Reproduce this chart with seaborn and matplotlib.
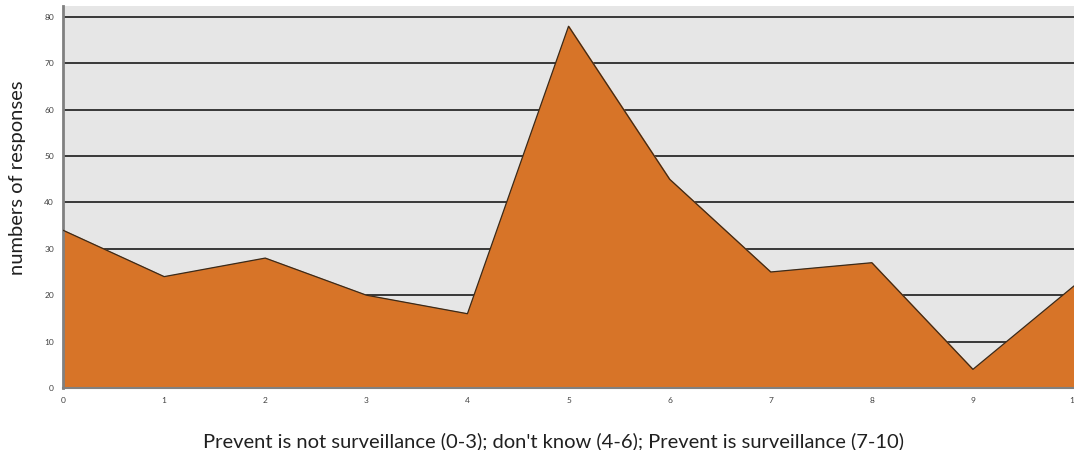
import matplotlib
matplotlib.use("Agg")
import matplotlib.pyplot as plt
import numpy as np
import pandas as pd
import seaborn as sns

scores = [0, 1, 2, 3, 4, 5, 6, 7, 8, 9, 10]
responses = [34, 24, 28, 20, 16, 78, 45, 25, 27, 4, 22]
y_ticks = [0, 10, 20, 30, 40, 50, 60, 70, 80]

df = pd.DataFrame({"score": scores, "responses": responses})

sns.set_style("white")
plt.rcParams["font.family"] = ["Lato", "DejaVu Sans"]

fig = plt.figure(figsize=(10.74, 4.5), dpi=100)
ax = fig.add_axes([0.0587, 0.138, 0.9413, 0.849])
ax.set_facecolor("#e6e6e6")

ax.fill_between(df["score"], df["responses"], color="#d77428", zorder=2)
sns.lineplot(data=df, x="score", y="responses", ax=ax, color="#3a2a1a",
             linewidth=0.9, zorder=3)

ax.set_xlim(0, 10)
ax.set_ylim(0, 82.4)
ax.set_xticks(scores)
ax.set_yticks(y_ticks)
ax.tick_params(axis="both", labelsize=6, length=3, color="#808080", labelcolor="#404040")
ax.yaxis.grid(True, color="#383838", linewidth=1.4, zorder=1)
ax.set_axisbelow(True)

for side in ["top", "right"]:
    ax.spines[side].set_visible(False)
ax.spines["left"].set_color("#808080")
ax.spines["left"].set_linewidth(2)
ax.spines["bottom"].set_color("#808080")
ax.spines["bottom"].set_linewidth(1.5)

ax.set_xlabel("Prevent is not surveillance (0-3); don't know (4-6); Prevent is surveillance (7-10)",
              fontsize=14.5, color="#202020")
ax.xaxis.set_label_coords(0.485, -0.115)
ax.set_ylabel("numbers of responses", fontsize=14.5, color="#202020")
ax.yaxis.set_label_coords(-0.037, 0.55)

fig.savefig("out.png", dpi=100)
